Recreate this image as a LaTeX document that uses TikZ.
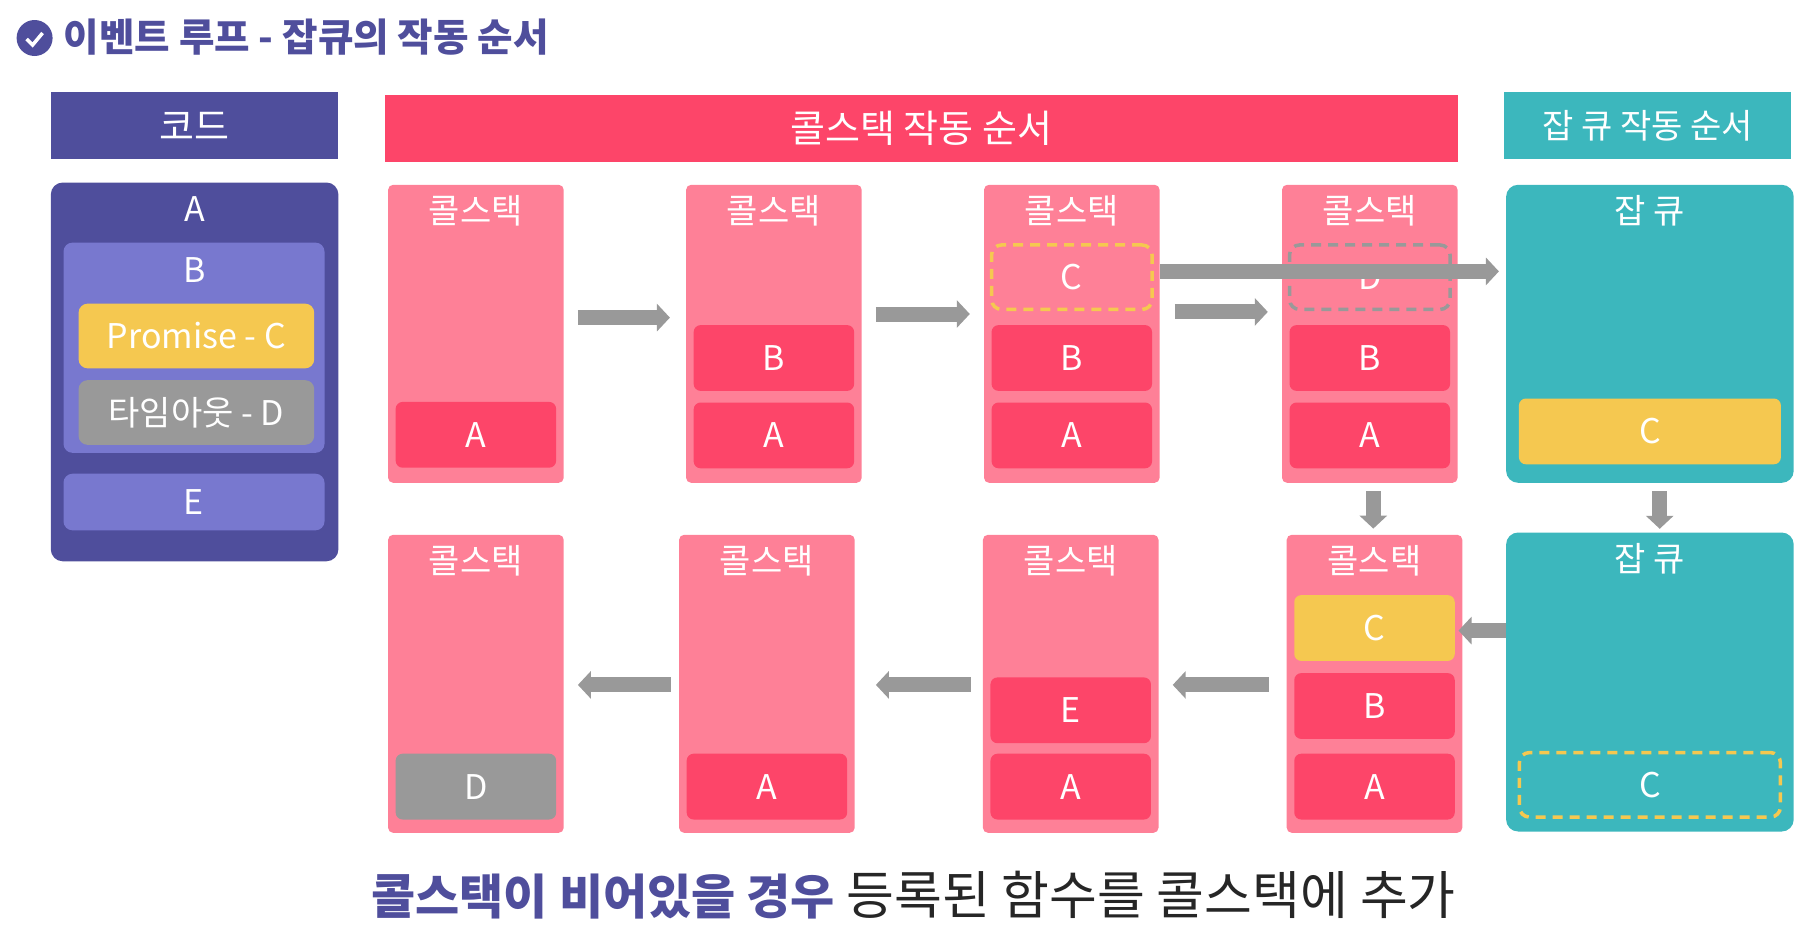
\documentclass[tikz,border=0pt]{standalone}
\usepackage{fontspec}
\setmainfont{Noto Sans CJK KR}
\usetikzlibrary{calc, positioning, arrows.meta}
\definecolor{codepurple}{HTML}{4F4E9C}
\definecolor{lightpurple}{HTML}{7878CF}
\definecolor{stackred}{HTML}{FD4569}
\definecolor{stackpink}{HTML}{FE8097}
\definecolor{queueteal}{HTML}{3CB7BD}
\definecolor{cyellow}{HTML}{F5C850}
\definecolor{dgray}{HTML}{999999}
\newcommand{\lblfont}{\fontsize{34}{34}\selectfont}
\newcommand{\headfont}{\fontsize{38}{38}\selectfont}
\begin{document}
\begin{tikzpicture}[x=1pt, y=-1pt,
	box/.style={rounded corners=5pt, inner sep=0pt, text=white, font=\lblfont},
	header/.style={box, rounded corners=0pt, minimum height=67pt, minimum width=287.6pt},
	stack/.style={box, fill=stackpink, minimum width=175.6pt, minimum height=298pt},
	queue/.style={box, rounded corners=12pt, fill=queueteal, minimum width=287.6pt, minimum height=298pt},
	item/.style={box, rounded corners=7pt, minimum width=160.5pt, minimum height=65.8pt},
	ghost/.style={box, rounded corners=10pt, line width=3.5pt, dash pattern=on 10pt off 7pt, minimum width=160.5pt, minimum height=64.5pt},
	panel/.style={box, rounded corners=9pt, minimum width=261pt},
	title/.style={inner sep=0pt, text=white, font=\lblfont},
	flow/.style={draw=dgray, line width=15pt, -{Triangle[length=13pt, width=27pt]}}]
	\useasboundingbox (0,0) rectangle (1811,927);
	% title
	\node (check) [circle, fill=codepurple, minimum size=36pt, inner sep=0pt] at (34.6,38) {};
	\draw[white, line width=3.5pt] ($(check)+(-8,1)$) -- ($(check)+(-2,7)$) -- ($(check)+(8,-5)$);
	\node (heading) [anchor=west, inner sep=0pt, text=codepurple, font=\fontsize{38.6}{38.6}\selectfont\bfseries] at (63.5,37) {이벤트 루프 - 잡큐의 작동 순서};
	% headers
	\node (code head) [header, fill=codepurple, font=\headfont] at (194.6,125.9) {코드};
	\node (stack head) [header, fill=stackred, minimum width=1073pt, font=\headfont] at (921.1,128.2) {콜스택 작동 순서};
	\node (queue head) [header, fill=queueteal] at (1647.6,125.9) {잡 큐 작동 순서};
	% code panel
	\node (code) [box, rounded corners=12pt, fill=codepurple, minimum width=287.6pt, minimum height=378.8pt] at (194.6,371.9) {};
	\node (code a) [title] at (194.6,209) {A};
	\node (panel b) [panel, fill=lightpurple, minimum height=210.2pt] at (194,347.7) {};
	\node (code b) [title] at (194.6,270.3) {B};
	\node (promise) [box, rounded corners=9pt, fill=cyellow, minimum width=235.6pt, minimum height=64.7pt] at (196.4,336) {Promise - C};
	\node (timeout) [box, rounded corners=9pt, fill=dgray, minimum width=235.6pt, minimum height=64.7pt] at (196.4,412.5) {타임아웃 - D};
	\node (panel e) [panel, fill=lightpurple, minimum height=56.6pt] at (194,502) {E};
	% call stacks
	\foreach \n/\x in {1/475.9,2/773.9,3/1071.8,4/1369.8}
		\node (top\n) [stack] at (\x,333.8) {};
	\foreach \n/\x in {1/475.9,2/766.9,3/1070.7,4/1374.5}
		\node (bot\n) [stack] at (\x,683.8) {};
	\foreach \s in {top1,top2,top3,top4,bot1,bot2,bot3,bot4}
		\node (\s title) [title, below=11pt of \s.north] {콜스택};
	% job queues
	\node (queue1) [queue] at (1649.9,333.8) {};
	\node (queue2) [queue, minimum height=299pt] at (1649.9,682) {};
	\foreach \s in {queue1,queue2}
		\node (\s title) [title, below=11pt of \s.north] {잡 큐};
	% stack items
	\foreach \name/\s/\y/\txt/\col in {
		ta1/top1/434.8/A/stackred, ta2/top2/435.4/A/stackred, tb2/top2/358/B/stackred,
		ta3/top3/435.4/A/stackred, tb3/top3/358/B/stackred, ta4/top4/435.4/A/stackred, tb4/top4/358/B/stackred,
		bd1/bot1/786.6/D/dgray, ba2/bot2/786.6/A/stackred, ba3/bot3/786.6/A/stackred, be3/bot3/710.3/E/stackred,
		ba4/bot4/786.6/A/stackred, bb4/bot4/706/B/stackred, bc4/bot4/628/C/cyellow}
		\node (\name) [item, fill=\col] at (\s|-0,\y) {\txt};
	\node (ghost c) [ghost, draw=cyellow] at (top3|-0,277.2) {C};
	\node (ghost d) [ghost, draw=dgray] at (top4|-0,277.2) {D};
	\node (queue c) [item, fill=cyellow, minimum width=262pt] at (queue1|-0,431.4) {C};
	\node (queue ghost) [ghost, draw=cyellow, minimum width=261pt] at (queue1|-0,784.8) {C};
	% arrows
	\draw[flow, shorten <=14pt, shorten >=16pt] ([yshift=16.2pt]top1.east) -- ([yshift=16.2pt]top2.west);
	\draw[flow, shorten <=14pt, shorten >=14pt] ([yshift=19.8pt]top2.east) -- ([yshift=19.8pt]top3.west);
	\draw[flow, shorten <=15pt, shorten >=14pt] ([yshift=21.9pt]top3.east) -- ([yshift=21.9pt]top4.west);
	\draw[flow, shorten >=7pt] ([yshift=62.4pt]top3.east) -- ([yshift=62.4pt]queue1.west);
	\draw[flow, shorten <=8pt, shorten >=6pt] ([xshift=3.5pt]top4.south) -- ([xshift=-1.2pt]bot4.north);
	\draw[flow, shorten <=8pt, shorten >=3.5pt] ([xshift=9.8pt]queue1.south) -- ([xshift=9.8pt]queue2.north);
	\draw[flow, shorten >=-4pt] ([yshift=51.4pt]queue2.west) -- ([yshift=53.2pt]bot4.east);
	\draw[flow, shorten <=18pt, shorten >=14pt] ([yshift=-1.1pt]bot4.west) -- ([yshift=-1.1pt]bot3.east);
	\draw[flow, shorten <=12pt, shorten >=21pt] ([yshift=-1.1pt]bot3.west) -- ([yshift=-1.1pt]bot2.east);
	\draw[flow, shorten <=8pt, shorten >=14pt] ([yshift=-1.1pt]bot2.west) -- ([yshift=-1.1pt]bot1.east);
	% bottom line
	\node (summary) [inner sep=0pt, text=black!85, font=\fontsize{52}{52}\selectfont] at (913.6,895) {{\fontsize{48}{48}\selectfont\bfseries\color{codepurple}콜스택이 비어있을 경우} 등록된 함수를 콜스택에 추가};
\end{tikzpicture}
\end{document}
